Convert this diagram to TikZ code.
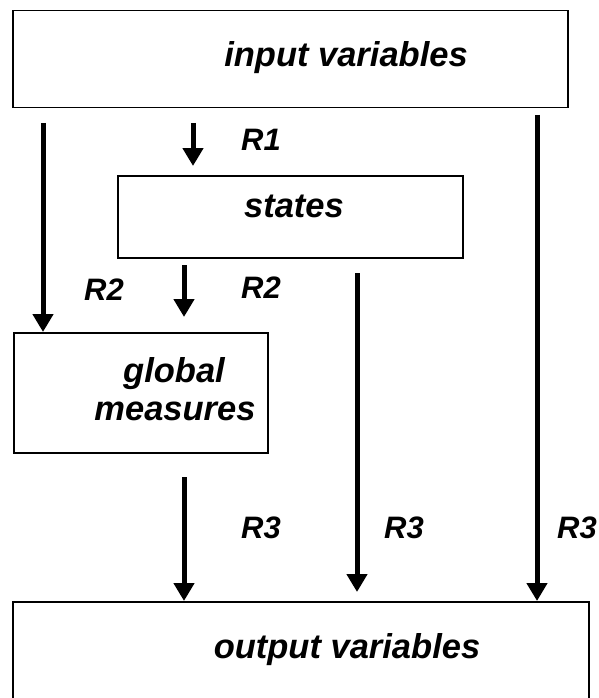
\documentclass[tikz,border=0pt]{standalone}
\usepackage{fontspec}
\setmainfont{Liberation Sans}
\usetikzlibrary{arrows.meta}
\begin{document}
\begin{tikzpicture}[x=1pt,y=-1pt,
  box/.style={draw=black, line width=1.5pt, anchor=north west, inner sep=0pt},
  arr/.style={line width=5pt, -{Triangle[length=18pt,width=20pt]}},
  txt/.style={font=\fontsize{34.5}{40}\selectfont\bfseries\itshape, anchor=base, inner sep=0pt},
  lbl/.style={font=\fontsize{31}{36}\selectfont\bfseries\itshape, anchor=base, inner sep=0pt}]
\clip (0,0) rectangle (599,698);
% boxes
\node[box, minimum width=555pt, minimum height=97pt] (in) at (12,10) {};
\node[box, minimum width=345pt, minimum height=82pt] (st) at (117,175) {};
\node[box, minimum width=254pt, minimum height=120pt] (gm) at (13,332) {};
\node[box, minimum width=576pt, minimum height=150pt] (out) at (12,601) {};
% texts
\node[txt] (tin) at (346,67) {input variables};
\node[txt] (tst) at (294,217) {states};
\node[txt] (tgm1) at (174,382) {global};
\node[txt] (tgm2) at (175,420) {measures};
\node[txt] (tout) at (347,658) {output variables};
% arrow ends
\coordinate (a1s) at (43,123);
\coordinate (r1s) at (193,123);
\coordinate (r1e) at (193,166);
\coordinate (r2s) at (184,265);
\coordinate (r2e) at (184,317);
\coordinate (ms) at (357,273);
\coordinate (me) at (357,592);
\coordinate (gs) at (184,477);
\coordinate (rs) at (537,115);
% arrows
\draw[arr] (a1s) -- (a1s |- gm.north);
\draw[arr] (r1s) -- (r1e);
\draw[arr] (r2s) -- (r2e);
\draw[arr] (ms) -- (me);
\draw[arr] (gs) -- (gs |- out.north);
\draw[arr] (rs) -- (rs |- out.north);
% labels
\node[lbl] (lr1) at (261,150) {R1};
\node[lbl] (lr2a) at (104,300) {R2};
\node[lbl] (lr2b) at (261,298) {R2};
\node[lbl] (lr3a) at (261,538) {R3};
\node[lbl] (lr3b) at (404,538) {R3};
\node[lbl] (lr3c) at (577,538) {R3};
\end{tikzpicture}
\end{document}
